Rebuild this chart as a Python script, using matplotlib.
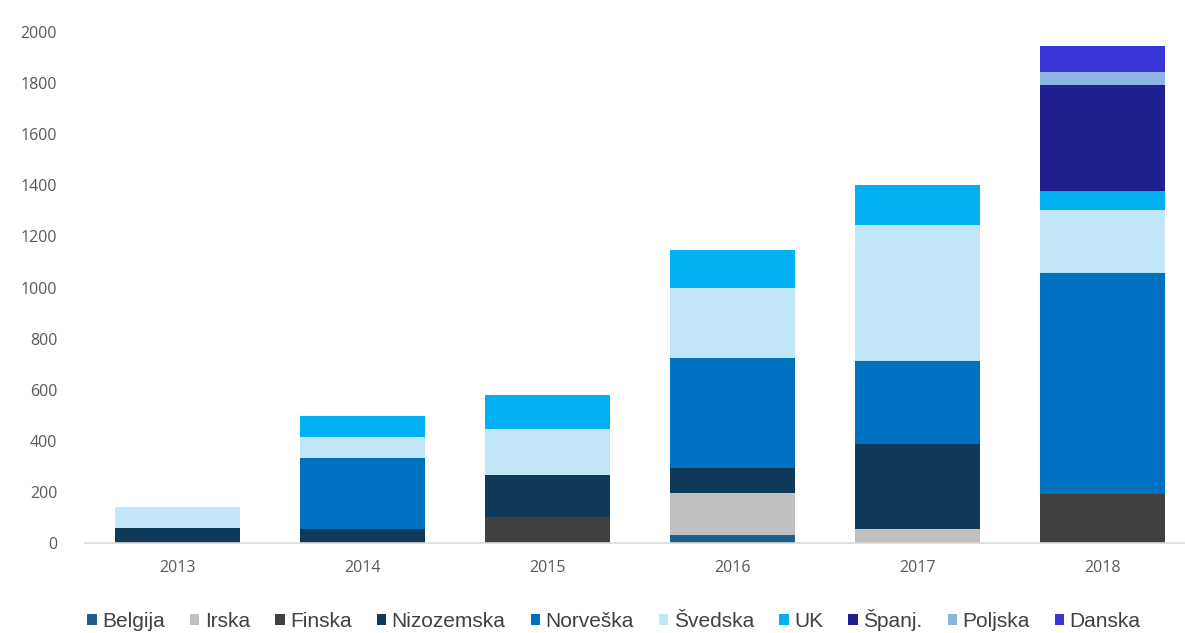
import matplotlib.pyplot as plt
import numpy as np

years = ['2013', '2014', '2015', '2016', '2017', '2018']
countries = ['Belgija', 'Irska', 'Finska', 'Nizozemska', 'Norveška',
             'Švedska', 'UK', 'Španj.', 'Poljska', 'Danska']

# MW po godini i zemlji (procjena s grafa)
belgija    = [0, 0, 0, 30, 0, 0]
irska      = [0, 0, 0, 165, 55, 0]
finska     = [0, 0, 100, 0, 0, 190]
nizozemska = [60, 55, 167, 98, 332, 0]
norveska   = [0, 278, 0, 432, 325, 866]
svedska    = [80, 82, 180, 274, 533, 246]
uk         = [0, 83, 134, 149, 156, 76]
spanj      = [0, 0, 0, 0, 0, 414]
poljska    = [0, 0, 0, 0, 0, 52]
danska     = [0, 0, 0, 0, 0, 103]

series = [belgija, irska, finska, nizozemska, norveska,
          svedska, uk, spanj, poljska, danska]
colors = ['#1f5f8b', '#bfbfbf', '#404040', '#0f3a5a', '#0070c0',
          '#c0e6f8', '#00b0f0', '#201f8f', '#8db4e2', '#3a35d8']

plt.rcParams['font.family'] = ['Open Sans', 'DejaVu Sans']

fig = plt.figure(figsize=(11.85, 6.33), dpi=100)
ax = fig.add_axes([85 / 1185, (633 - 543) / 633, 1 - 85 / 1185, (543 - 32) / 633])

x = np.arange(len(years))
bottom = np.zeros(len(years))
handles = []
for name, vals, c in zip(countries, series, colors):
    vals = np.array(vals, dtype=float)
    b = ax.bar(x, vals, 0.68, bottom=bottom, color=c, label=name, linewidth=0)
    handles.append(b)
    bottom += vals

ax.set_ylim(0, 2000)
ax.set_xlim(-0.5, 5.5 - 10 / 185)
ax.set_yticks(range(0, 2001, 200))
ax.set_xticks(x)
ax.set_xticklabels(years)
ax.tick_params(axis='both', length=0, labelsize=11.5, colors='#595959')
ax.tick_params(axis='y', pad=20)
ax.tick_params(axis='x', pad=12)
for s in ['top', 'right', 'left']:
    ax.spines[s].set_visible(False)
ax.spines['bottom'].set_color('#d9d9d9')
ax.spines['bottom'].set_linewidth(1.2)

leg = fig.legend(handles=handles, labels=countries, loc='center',
                 bbox_to_anchor=(614 / 1185, 1 - 620 / 633), ncol=10,
                 frameon=False, handlelength=0.45, handleheight=0.45,
                 handletextpad=0.25, columnspacing=1.22,
                 prop={'family': ['Liberation Sans', 'DejaVu Sans'], 'size': 15})
for t in leg.get_texts():
    t.set_color('#404040')

fig.savefig('out.png', dpi=100)
